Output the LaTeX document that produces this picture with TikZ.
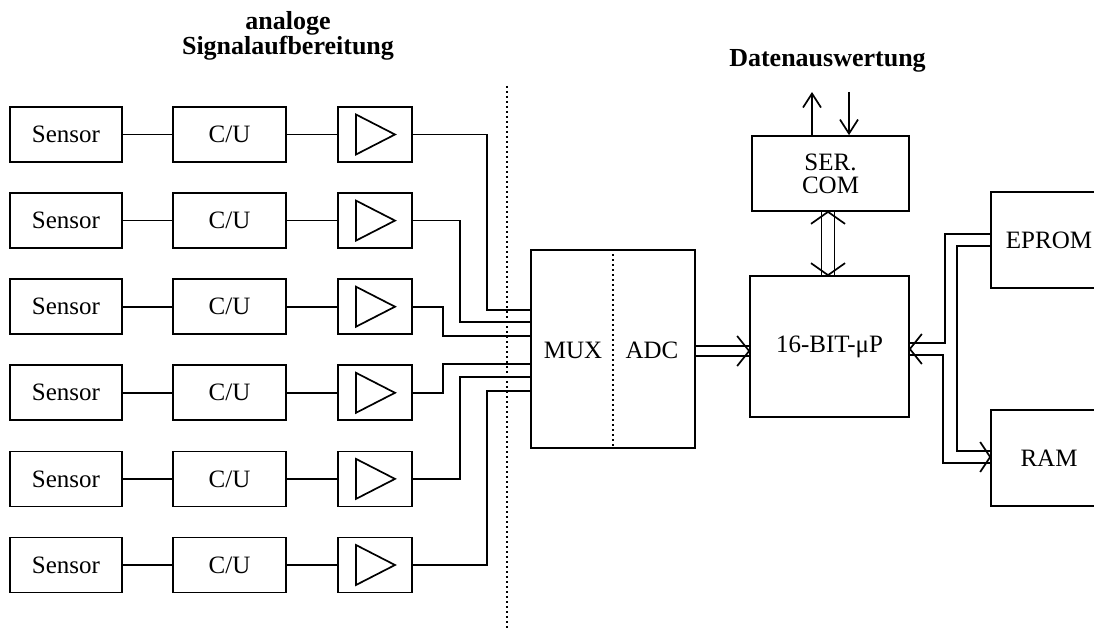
\documentclass[tikz,border=0pt]{standalone}
\usepackage{fontspec}
\setmainfont{Liberation Serif}
\usetikzlibrary{calc,arrows.meta}

\begin{document}
\begin{tikzpicture}[x=1pt,y=-1pt,
  line width=1.7pt,
  box/.style={draw, line width=1.7pt, inner sep=0pt,
    font=\fontsize{25}{23}\selectfont, align=center},
  lbl/.style={font=\fontsize{25}{23}\selectfont, inner sep=0pt},
  ttl/.style={font=\fontsize{26}{23}\selectfont\bfseries, inner sep=0pt, anchor=base, align=center},
  sep/.style={line width=1.6pt, dash pattern=on 1.6pt off 3.4pt},
  barb/.style={-{Straight Barb[length=14pt,width=18pt]}}
]
\useasboundingbox (0,0) rectangle (1094,628);
\clip (0,0) rectangle (1094,628);

% headings
\node[ttl] (t1) at (288,55) {analoge\\Signalaufbereitung};
\node[ttl] (t3) at (827.5,66.7) {Datenauswertung};

% boundary between analogue and digital part
\draw[sep] (507,86) -- (507,628);

% multiplexer and converter
\node[box, minimum width=164, minimum height=198] (conv) at (613,349) {};
\node[lbl] (mux) at (573,350) {MUX};
\node[lbl] (adc) at (652,350) {ADC};
\draw[sep] (conv.north) -- (conv.south);

% sensor channels
\foreach \i/\y/\tx/\ty in {1/134.5/487/310, 2/220.6/460/322, 3/306.7/443/336,
                          4/392.8/443/364, 5/478.9/460/377, 6/565/487/391} {
  \node[box, minimum width=112, minimum height=55] (s\i) at (66,\y) {Sensor};
  \node[box, minimum width=113, minimum height=55] (c\i) at (229.5,\y) {C/U};
  \node[box, minimum width=74, minimum height=55] (a\i) at (375,\y) {};
  \draw ($(a\i.center)+(-19,-20)$) -- ($(a\i.center)+(20,0)$)
        -- ($(a\i.center)+(-19,20)$) -- cycle;
  \draw (s\i) -- (c\i);
  \draw (c\i) -- (a\i);
  \coordinate (k\i) at (\tx,\ty);
  \draw (a\i.east) -| (k\i) -- (conv.west |- k\i);
}

% processor, interface and memories
\node[box, minimum width=157, minimum height=75] (ser) at (830.5,173.5) {SER.\\COM};
\node[box, minimum width=159, minimum height=141] (mp) at (829.5,346.5) {16-BIT-μP};
\node[box, minimum width=116, minimum height=96] (ep) at (1049,240) {EPROM};
\node[box, minimum width=116, minimum height=96] (ram) at (1049,458) {RAM};

% serial lines
\coordinate (o1) at (812,92);
\coordinate (i1) at (849,92);
\draw[barb] (ser.north -| o1) -- (o1);
\draw[barb] (i1) -- (ser.north -| i1);

% bus interface <-> processor
\coordinate (b1) at ($(ser.south)+(-2.5,0)$);
\coordinate (b2) at (b1 |- mp.north);
\draw ($(b1)+(-6.5,0)$) -- ($(b2)+(-6.5,0)$);
\draw ($(b1)+(6.5,0)$) -- ($(b2)+(6.5,0)$);
\draw ($(b1)+(-17,12)$) -- (b1) -- ($(b1)+(17,12)$);
\draw ($(b2)+(-17,-12)$) -- (b2) -- ($(b2)+(17,-12)$);

% converter -> processor
\coordinate (b3) at ($(mp.west)+(0,4.5)$);
\draw ($(conv.east |- b3)+(0,-5)$) -- ($(b3)+(0,-5)$);
\draw ($(conv.east |- b3)+(0,5)$) -- ($(b3)+(0,5)$);
\draw ($(b3)+(-12,-15)$) -- (b3) -- ($(b3)+(-12,15)$);

% memory bus
\coordinate (b4) at ($(mp.east)+(0,2.5)$);
\coordinate (b5) at ($(ram.west)+(0,-1)$);
\draw ($(ep.west)+(0,-6)$) -| ($(b4)+(35,-6)$) -- ($(b4)+(0,-6)$);
\draw ($(b4)+(0,6)$) -| ($(b5)+(-47,6)$) -- ($(b5)+(0,6)$);
\draw ($(ep.west)+(0,6)$) -| ($(b5)+(-33.5,-6)$) -- ($(b5)+(0,-6)$);
\draw ($(b4)+(12,-15)$) -- (b4) -- ($(b4)+(12,15)$);
\draw ($(b5)+(-10,-15)$) -- (b5) -- ($(b5)+(-10,15)$);
\end{tikzpicture}
\end{document}
